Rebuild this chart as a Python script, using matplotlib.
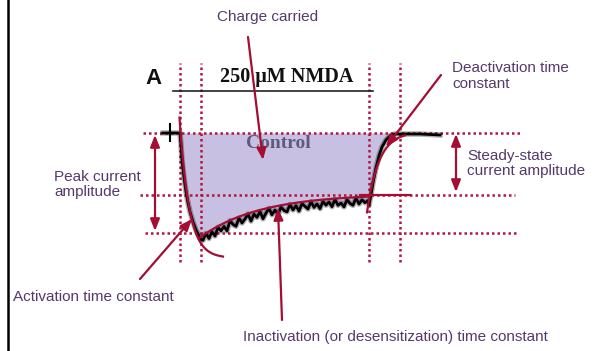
import matplotlib
matplotlib.use("Agg")
import matplotlib.pyplot as plt
import numpy as np

# ---- recorded current trace: time (ms) vs current (pA) ----
trace_time_ms = [-170, -100, 0, 10, 20, 40, 60, 80, 100, 130, 160, 190, 210,
                 230, 260, 290, 320, 350, 380, 410, 440, 470, 500, 530, 560,
                 590, 620, 650, 680, 710, 740, 770, 800, 830, 860, 890, 920,
                 950, 980, 1010, 1040, 1070, 1100, 1130, 1160, 1190, 1220,
                 1250, 1280, 1310, 1340, 1370, 1400, 1430, 1460, 1490, 1520,
                 1550, 1580, 1610, 1640, 1670, 1700, 1730, 1760, 1790, 1820,
                 1850, 1880, 1890, 1910, 1930, 1960, 1990, 2020, 2060, 2100,
                 2150, 2200, 2400, 2600]
trace_current_pa = [0, 0, 0, -120, -270, -450, -590, -700, -790, -890, -970,
                    -1030, -1070,
                    -1073, -1004, -1055, -987, -1030, -944, -979, -934, -980,
                    -877, -915, -933, -851, -900, -860, -811, -881, -812,
                    -844, -786, -858, -801, -754, -818, -771, -816, -740,
                    -775, -789, -715, -770, -726, -781, -707, -734, -760,
                    -687, -744, -710, -757, -685, -722, -690, -737, -665,
                    -723, -701, -739, -667, -705, -723, -652, -710, -668,
                    -697, -676, -720, -620, -500, -350, -230, -140, -70, -30,
                    -10, -10, -10, -20]

# ---- exponential fits of the three kinetic phases ----
act_start_ms, act_start_pa, act_inf_pa, tau_act_ms = -10, 230, -1250, 95
inact_start_ms, inact_ss_pa, inact_amp_pa, tau_inact_ms = 220, -610, -420, 600
deact_start_ms, deact_base_pa, deact_amp_pa, tau_deact_ms = 1890, 10, -680, 120

# ---- reference levels and time markers ----
baseline_pa = 0
steady_state_pa = -615
peak_pa = -1000
marker_times_ms = [-5, 210, 1890, 2195]
agonist_on_ms, agonist_off_ms, agonist_bar_pa = -70, 1930, 420
artifact_ms = -100

RED = "#a50d33"
DOT = "#b01640"
TXT = "#55396b"
FILL = "#c8c0e2"

fig = plt.figure(figsize=(5.92, 3.51), dpi=100)
ax = fig.add_axes([0, 0, 1, 1])
ax.set_xlim(-1800, 4120)
ax.set_ylim(-2180, 1330)
ax.axis("off")

t = np.array(trace_time_ms, dtype=float)
i = np.array(trace_current_pa, dtype=float)

# charge carried: area between baseline and the trace during the response
resp = (t >= 0) & (t <= 2150)
ax.fill_between(t[resp], i[resp], baseline_pa, color=FILL, lw=0, zorder=1)

# dotted guide lines
dot_style = dict(color=DOT, lw=1.8, linestyle=(0, (1, 1.2)), zorder=2)
ax.hlines(baseline_pa, -370, 3400, **dot_style)
ax.hlines(steady_state_pa, -400, 3350, **dot_style)
ax.hlines(peak_pa, -350, 3380, **dot_style)
ax.vlines(marker_times_ms, -1290, 700, **dot_style)

# recorded trace (soft halo plus core line)
ax.plot(t, i, color="black", lw=4.0, alpha=0.3, solid_joinstyle="round", zorder=3)
ax.plot(t, i, color="black", lw=2.0, solid_joinstyle="round", zorder=3)
ax.plot([artifact_ms, artifact_ms], [90, -80], color="black", lw=1.5, zorder=3)

# agonist application bar
ax.plot([agonist_on_ms, agonist_off_ms], [agonist_bar_pa, agonist_bar_pa],
        color="#222222", lw=1.2, zorder=3)

# fitted curves
ta = np.linspace(-5, 430, 200)
ax.plot(ta, act_inf_pa + (act_start_pa - act_inf_pa) * np.exp(-(ta - act_start_ms) / tau_act_ms),
        color=RED, lw=1.6, zorder=4)
ti = np.linspace(200, 1890, 300)
ax.plot(ti, inact_ss_pa + inact_amp_pa * np.exp(-(ti - inact_start_ms) / tau_inact_ms),
        color=RED, lw=1.6, zorder=4)
ax.plot([1800, 2300], [steady_state_pa, steady_state_pa], color=RED, lw=1.6, zorder=4)
td = np.linspace(1870, 2250, 200)
ax.plot(td, deact_base_pa + deact_amp_pa * np.exp(-(td - deact_start_ms) / tau_deact_ms),
        color=RED, lw=1.6, zorder=4)

# ---- labels and arrows (pixel layout layer) ----
lay = fig.add_axes([0, 0, 1, 1])
lay.set_xlim(0, 592)
lay.set_ylim(351, 0)
lay.axis("off")
lay.patch.set_alpha(0)

lay.plot([8, 8], [0, 351], color="black", lw=1.8)

lay.text(153, 78, "A", fontsize=16, fontweight="bold", family="Liberation Sans",
         ha="center", va="center", color="#111111")
lay.text(287, 77, "250 \u03bcM NMDA", fontsize=14.5, fontweight="bold",
         family="Liberation Serif", ha="center", va="center", color="#111111")
lay.text(278, 143, "Control", fontsize=14, fontweight="bold",
         family="Liberation Serif", ha="center", va="center", color="#5f5a7c",
         zorder=2)

tkw = dict(fontsize=11, family="Liberation Sans", color=TXT)
lay.text(268, 17, "Charge carried", ha="center", va="center", **tkw)
lay.text(452, 76, "Deactivation time\nconstant", ha="left", va="center",
         linespacing=1.15, **tkw)
lay.text(54, 184.5, "Peak current\namplitude", ha="left", va="center",
         linespacing=1.15, **tkw)
lay.text(467, 163.5, "Steady-state\ncurrent amplitude", ha="left", va="center",
         linespacing=1.15, **tkw)
lay.text(13, 297, "Activation time constant", ha="left", va="center", **tkw)
lay.text(243, 337, "Inactivation (or desensitization) time constant",
         ha="left", va="center", **tkw)

one_head = dict(arrowstyle="-|>,head_length=0.5,head_width=0.2",
                mutation_scale=14, color=RED, lw=1.6, shrinkA=0, shrinkB=0)
two_head = dict(arrowstyle="<|-|>,head_length=0.5,head_width=0.2",
                mutation_scale=14, color=RED, lw=1.6, shrinkA=0, shrinkB=0)

for start, tip in [((248, 37), (263, 160)),
                   ((441, 75), (386, 147)),
                   ((140, 279), (192, 219)),
                   ((282, 320), (278, 208))]:
    lay.annotate("", xy=tip, xytext=start, arrowprops=one_head, zorder=5)

lay.annotate("", xy=(155, 231), xytext=(155, 135), arrowprops=two_head, zorder=5)
lay.annotate("", xy=(456, 192), xytext=(456, 134), arrowprops=two_head, zorder=5)

fig.savefig("out.png", dpi=100)
